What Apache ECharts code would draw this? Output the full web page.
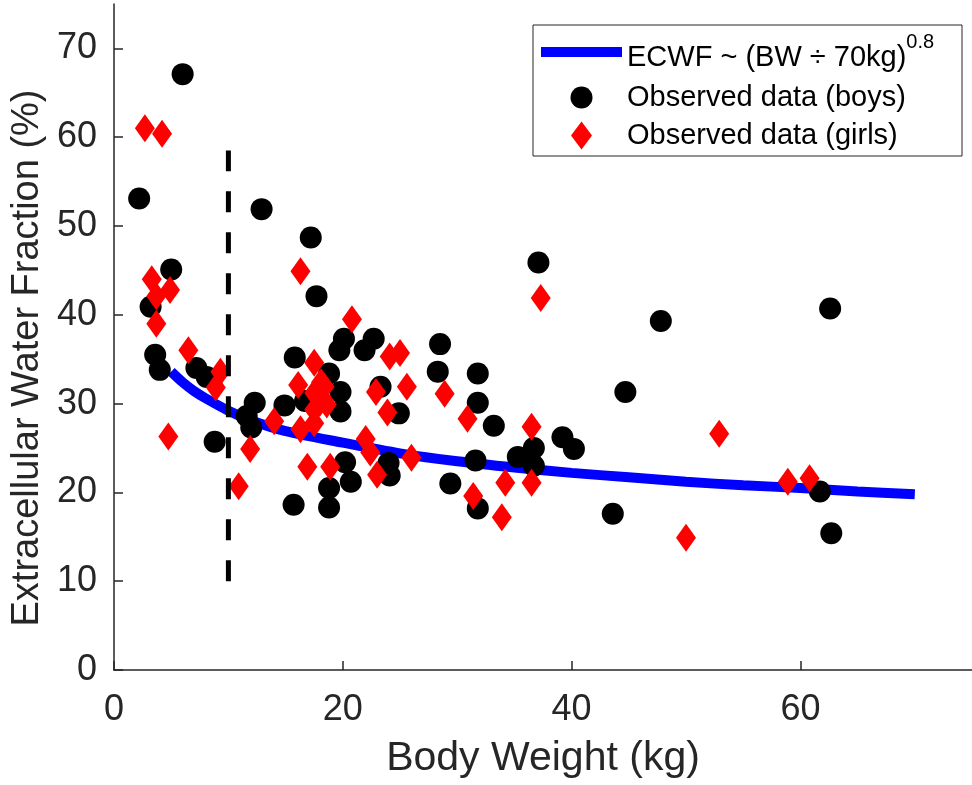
<!DOCTYPE html>
<html>
<head>
<meta charset="utf-8">
<script src="https://cdn.jsdelivr.net/npm/echarts@6/dist/echarts.min.js"></script>
<style>
  html, body { margin: 0; padding: 0; background: #fff; }
  #chart { width: 972px; height: 785px; }
</style>
</head>
<body>
<div id="chart"></div>
<script>
// fitted curve
const fitX = [5, 6, 7, 8, 10, 12, 15, 20, 25, 30, 35, 40, 45, 50, 55, 60, 65, 70];
const fitY = [33.6, 32.4, 31.4, 30.6, 29.2, 28.1, 26.9, 25.6, 24.4, 23.5, 22.8, 22.2, 21.7, 21.2, 20.8, 20.5, 20.1, 19.8];

// boys
const boysX = [2.2, 6.0, 3.2, 5.0, 3.6, 4.0, 7.2, 8.1, 8.8, 12.9, 12.3, 11.6, 12.0, 14.9, 15.8, 17.2, 17.7,
  20.1, 19.7, 22.7, 21.9, 18.8, 19.8, 19.8, 16.7, 23.3, 24.9, 28.5, 28.3, 20.2, 20.7, 18.8, 18.8, 15.7,
  24.0, 24.1, 37.1, 31.8, 31.8, 33.2, 31.6, 29.4, 31.8, 35.3, 36.7, 36.7, 39.2, 40.2, 43.6, 44.7, 47.8,
  62.6, 61.7, 62.7];
const boysY = [53.1, 67.1, 40.9, 45.1, 35.5, 33.8, 34.0, 33.0, 25.7, 51.9, 30.1, 28.6, 27.3, 29.8, 35.2, 48.7, 42.1,
  37.3, 36.0, 37.3, 36.0, 33.4, 31.3, 29.1, 30.3, 31.9, 28.9, 36.7, 33.6, 23.4, 21.2, 20.5, 18.3, 18.6,
  23.3, 21.9, 45.9, 33.4, 30.1, 27.5, 23.6, 21.0, 18.2, 24.0, 25.0, 23.0, 26.2, 24.9, 17.6, 31.3, 39.3,
  40.7, 20.1, 15.4];

// girls
const girlsX = [2.7, 4.2, 3.3, 3.7, 4.9, 3.7, 6.5, 9.3, 8.9, 4.75, 11.9, 10.9, 16.3, 20.8, 24.1, 25.0, 25.6,
  22.9, 23.9, 17.5, 16.1, 18.4, 18.1, 17.5, 18.0, 18.6, 17.5, 16.3, 17.5, 14.0, 16.9, 18.9, 22.0, 22.4,
  23.0, 26.0, 37.3, 28.9, 30.9, 36.5, 34.2, 36.5, 31.4, 33.9, 52.9, 50.0, 58.9, 60.8];
const girlsY = [61.0, 60.4, 44.0, 42.1, 42.8, 39.0, 36.0, 33.6, 31.8, 26.3, 24.9, 20.7, 44.9, 39.5, 35.3, 35.7, 31.9,
  31.3, 29.0, 34.6, 32.1, 31.9, 32.4, 31.2, 30.1, 29.9, 29.3, 27.1, 27.8, 28.0, 22.9, 22.9, 26.0, 24.5,
  22.0, 23.9, 41.9, 31.1, 28.3, 27.4, 21.1, 21.1, 19.6, 17.2, 26.6, 14.9, 21.2, 21.6];

// vertical cut-off at 10 kg
const cutX = [10, 10];
const cutY = [10, 58.5];

const xTicks = [0, 20, 40, 60];
const yTicks = [0, 10, 20, 30, 40, 50, 60, 70];

const names = {
  fit: 'ECWF ~ (BW ÷ 70kg)',
  boys: 'Observed data (boys)',
  girls: 'Observed data (girls)'
};

const zip = (xs, ys) => xs.map((x, i) => [x, ys[i]]);
const font = 'Liberation Sans, Arial, sans-serif';
const ink = '#262626';

const chart = echarts.init(document.getElementById('chart'));

const legendBase = {
  orient: 'vertical',
  padding: 0,
  itemWidth: 81,
  selectedMode: false,
  textStyle: { fontFamily: font, fontSize: 29, color: '#000' }
};

chart.setOption({
  animation: false,
  grid: { left: 114, right: -10, top: 4, bottom: 115 },
  graphic: [{
    type: 'rect',
    z: 3,
    shape: { x: 533, y: 25, width: 429, height: 131 },
    style: { fill: '#fff', stroke: ink, lineWidth: 1 }
  }],
  legend: [
    Object.assign({}, legendBase, {
      left: 541,
      top: 32,
      itemHeight: 10,
      data: [{ name: names.fit, icon: 'rect' }],
      formatter: function (n) { return '{a|' + n + '}{s|0.8}'; },
      textStyle: {
        fontFamily: font, fontSize: 29, color: '#000',
        rich: {
          a: { fontFamily: font, fontSize: 29, color: '#000', verticalAlign: 'bottom' },
          s: { fontFamily: font, fontSize: 20, color: '#000', verticalAlign: 'bottom', padding: [0, 0, 20, 0] }
        }
      }
    }),
    Object.assign({}, legendBase, {
      left: 570.5,
      top: 83,
      itemHeight: 22,
      data: [{ name: names.boys, icon: 'circle' }]
    }),
    Object.assign({}, legendBase, {
      left: 571,
      top: 121,
      itemHeight: 28,
      data: [{ name: names.girls, icon: 'path://M10.5,0L21,14L10.5,28L0,14Z' }]
    })
  ],
  xAxis: {
    type: 'value',
    min: 0,
    max: 75,
    name: 'Body Weight (kg)',
    nameLocation: 'middle',
    nameGap: 68,
    nameTextStyle: { fontFamily: font, fontSize: 41, color: ink },
    axisLine: { lineStyle: { color: ink, width: 1.5 } },
    axisTick: { inside: true, length: 9, customValues: xTicks, lineStyle: { color: ink, width: 1.5 } },
    axisLabel: { customValues: xTicks, margin: 22, fontFamily: font, fontSize: 36, color: ink },
    splitLine: { show: false }
  },
  yAxis: {
    type: 'value',
    min: 0,
    max: 75,
    name: 'Extracellular Water Fraction (%)',
    nameLocation: 'middle',
    nameGap: 65,
    nameTextStyle: { fontFamily: font, fontSize: 38, color: ink, padding: [0, 42, 0, 0] },
    axisLine: { show: true, lineStyle: { color: ink, width: 1.5 } },
    axisTick: { show: true, inside: true, length: 9, customValues: yTicks, lineStyle: { color: ink, width: 1.5 } },
    axisLabel: { customValues: yTicks, margin: 17, fontFamily: font, fontSize: 36, color: ink },
    splitLine: { show: false }
  },
  series: [
    {
      name: names.fit,
      type: 'line',
      data: zip(fitX, fitY),
      smooth: 0.3,
      symbol: 'none',
      lineStyle: { color: '#0000ff', width: 10 },
      itemStyle: { color: '#0000ff' },
      z: 2
    },
    {
      name: names.boys,
      type: 'scatter',
      data: zip(boysX, boysY),
      symbol: 'circle',
      symbolSize: 22,
      itemStyle: { color: '#000', opacity: 1 },
      z: 3
    },
    {
      name: names.girls,
      type: 'scatter',
      data: zip(girlsX, girlsY),
      symbol: 'diamond',
      symbolSize: [20, 28],
      itemStyle: { color: '#ff0000', opacity: 1 },
      z: 4
    },
    {
      name: 'cutoff',
      type: 'line',
      data: zip(cutX, cutY),
      symbol: 'none',
      lineStyle: { color: '#000', width: 5, type: [21, 20] },
      z: 5
    }
  ]
});
</script>
</body>
</html>
